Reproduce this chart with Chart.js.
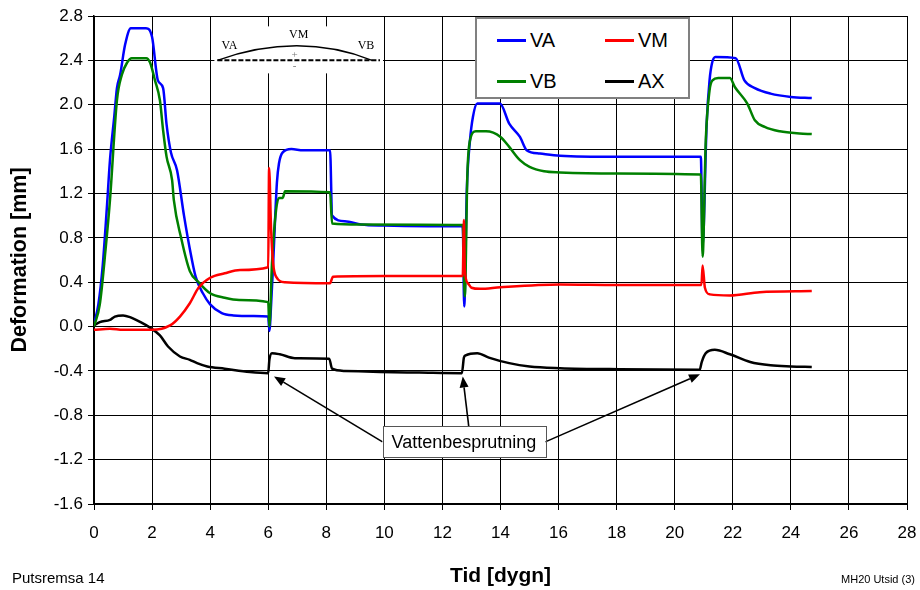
<!DOCTYPE html>
<html>
<head>
<meta charset="utf-8">
<script src="https://cdn.jsdelivr.net/npm/chart.js@4.4.1/dist/chart.umd.min.js"></script>
<style>
  body { margin: 0; background: #fff; }
  #wrap { position: relative; width: 920px; height: 590px; font-family: 'Liberation Sans', Arial, sans-serif; }
  #legend { position: absolute; left: 475px; top: 17px; width: 211px; height: 78px; border: 2px solid #808080; background: #fff; }
  .item { position: absolute; font-size: 20px; line-height: 20px; color: #000; }
  .item span.sw { position: absolute; left: 0; top: 9px; width: 29px; height: 3px; }
  .item span.tx { position: absolute; left: 33px; top: 0; }
  .foot { position: absolute; color: #000; white-space: nowrap; }
</style>
</head>
<body>
<div id="wrap">
  <canvas id="chart" width="920" height="590"></canvas>
  <div id="legend"></div>
  <div class="foot" style="left:12px; top:569px; font-size:15px;">Putsremsa 14</div>
  <div class="foot" style="right:5px; top:573px; font-size:11px;">MH20 Utsid (3)</div>
</div>
<script>
// Deformation vs time, readings taken off the plot
const seriesNames = ['VA', 'VM', 'VB', 'AX'];
const seriesColors = ['#0000ff', '#ff0000', '#008000', '#000000'];
const drawOrder = [2, 0, 1, 3]; // red on top, then green, blue, black

const vaDays = [0, 0.15, 0.3, 0.45, 0.55, 0.7, 0.79, 0.9, 1.07, 1.27, 1.79, 2.0, 2.2, 2.38, 2.5, 2.65, 2.86, 3.1, 3.3, 3.5, 3.75, 4.0, 4.4, 4.8, 5.5, 6.0,
  6.04, 6.1, 6.17, 6.3, 6.37, 6.5, 6.8, 7.2, 8.13, 8.2, 8.64, 9.2, 10.0, 11.5, 12.7,
  12.75, 12.84, 12.95, 13.05, 13.2, 13.98, 14.3, 14.67, 14.9, 15.36, 16.05, 18.0, 20.9,
  20.96, 21.1, 21.2, 21.29, 21.4, 22.1, 22.4, 22.76, 23.3, 24.0, 24.72];
const vaValues = [0.02, 0.2, 0.55, 1.1, 1.5, 1.9, 2.15, 2.27, 2.54, 2.69, 2.69, 2.61, 2.22, 2.15, 1.82, 1.57, 1.41, 1.0, 0.7, 0.45, 0.3, 0.2, 0.12, 0.1, 0.095, 0.09,
  -0.04, 0.2, 0.57, 1.3, 1.47, 1.57, 1.6, 1.59, 1.59, 1.0, 0.95, 0.92, 0.91, 0.905, 0.905,
  0.18, 1.23, 1.68, 1.89, 2.01, 2.01, 1.83, 1.71, 1.59, 1.56, 1.54, 1.53, 1.53,
  0.72, 1.83, 2.22, 2.38, 2.43, 2.42, 2.22, 2.15, 2.1, 2.07, 2.06];

const vmDays = [0, 0.55, 1.0, 2.0, 2.62, 2.96, 3.3, 3.6, 4.0, 4.5, 5.03, 6.0,
  6.03, 6.1, 6.17, 6.27, 6.58, 8.13, 8.23, 10.0, 12.7,
  12.74, 12.77, 12.88, 13.0, 13.3, 14.0, 16.05, 18.0, 20.92,
  20.96, 21.04, 21.21, 21.9, 22.93, 24.72];
const vmValues = [-0.03, -0.02, -0.03, -0.03, 0.01, 0.09, 0.21, 0.35, 0.44, 0.48, 0.51, 0.535,
  1.43, 0.87, 0.57, 0.45, 0.4, 0.39, 0.45, 0.455, 0.455,
  0.96, 0.51, 0.39, 0.35, 0.34, 0.355, 0.38, 0.375, 0.375,
  0.55, 0.35, 0.29, 0.28, 0.31, 0.32];

const vbDays = [0, 0.2, 0.4, 0.55, 0.79, 0.96, 1.14, 1.3, 1.8, 1.93, 2.1, 2.27, 2.38, 2.5, 2.69, 2.75, 3.0, 3.3, 3.6, 4.0, 4.5, 5.0, 6.0,
  6.04, 6.13, 6.27, 6.37, 6.5, 6.58, 8.13, 8.2, 9.16, 12.7,
  12.77, 12.86, 12.95, 13.15, 13.5, 14.0, 14.3, 14.67, 15.0, 15.5, 16.05, 18.0, 20.9,
  20.96, 21.07, 21.2, 21.3, 21.5, 21.9, 22.07, 22.5, 22.76, 23.1, 23.62, 24.3, 24.72];
const vbValues = [0.0, 0.2, 0.7, 1.14, 2.04, 2.27, 2.38, 2.42, 2.42, 2.38, 2.22, 2.04, 1.77, 1.53, 1.32, 1.14, 0.8, 0.5, 0.4, 0.3, 0.26, 0.24, 0.22,
  0.0, 0.57, 1.05, 1.16, 1.16, 1.22, 1.21, 0.93, 0.92, 0.915,
  0.27, 1.38, 1.68, 1.76, 1.76, 1.71, 1.62, 1.5, 1.44, 1.4, 1.39, 1.38, 1.37,
  0.63, 1.68, 2.13, 2.22, 2.24, 2.24, 2.16, 2.01, 1.86, 1.8, 1.76, 1.74, 1.735];

const axDays = [0, 0.2, 0.55, 0.72, 1.0, 1.24, 1.6, 1.93, 2.27, 2.55, 2.96, 3.3, 3.55, 3.9, 4.5, 5.37, 6.0,
  6.04, 6.13, 6.4, 6.92, 8.1, 8.2, 8.64, 9.85, 11.2, 12.67,
  12.74, 12.8, 13.2, 13.6, 14.3, 15.0, 16.05, 18.1, 20.86,
  20.93, 21.07, 21.38, 21.9, 22.6, 23.3, 24.0, 24.72];
const axValues = [0.01, 0.04, 0.06, 0.09, 0.1, 0.085, 0.04, -0.01, -0.08, -0.18, -0.27, -0.3, -0.33, -0.36, -0.38, -0.41, -0.42,
  -0.3, -0.24, -0.25, -0.285, -0.29, -0.38, -0.4, -0.41, -0.415, -0.42,
  -0.28, -0.26, -0.24, -0.28, -0.33, -0.36, -0.375, -0.385, -0.39,
  -0.32, -0.24, -0.21, -0.25, -0.32, -0.35, -0.36, -0.365];

// axes
const xMin = 0, xMax = 28, xStep = 2;
const yMin = -1.6, yMax = 2.8, yStep = 0.4;

// annotations
const noteText = 'Vattenbesprutning';
const noteDay = 12.74, noteValue = -1.04;
const sprayTipDays = [6.2, 12.7, 20.87];
const sprayTipValues = [-0.45, -0.45, -0.43];
const beamFrom = 4.25, beamTo = 9.85, beamValue = 2.4;

function zip(days, vals) {
  return days.map((d, i) => ({ x: d, y: vals[i] }));
}

const seriesData = [zip(vaDays, vaValues), zip(vmDays, vmValues), zip(vbDays, vbValues), zip(axDays, axValues)];

// legend (2 columns)
const legend = document.getElementById('legend');
seriesNames.forEach((name, i) => {
  const el = document.createElement('div');
  el.className = 'item';
  el.style.left = (20 + (i % 2) * 108) + 'px';
  el.style.top = (11 + Math.floor(i / 2) * 41) + 'px';
  el.innerHTML = '<span class="sw" style="background:' + seriesColors[i] + '"></span><span class="tx">' + name + '</span>';
  legend.appendChild(el);
});

function drawArrow(ctx, x0, y0, x1, y1) {
  const ang = Math.atan2(y1 - y0, x1 - x0);
  const len = 11, half = 4.5;
  const bx = x1 - len * Math.cos(ang), by = y1 - len * Math.sin(ang);
  ctx.beginPath();
  ctx.moveTo(x0, y0);
  ctx.lineTo(bx, by);
  ctx.stroke();
  ctx.beginPath();
  ctx.moveTo(x1, y1);
  ctx.lineTo(bx + half * Math.sin(ang), by - half * Math.cos(ang));
  ctx.lineTo(bx - half * Math.sin(ang), by + half * Math.cos(ang));
  ctx.closePath();
  ctx.fill();
}

const annotations = {
  id: 'annotations',
  beforeDatasetsDraw(chart) {
    const { ctx, scales: { x, y } } = chart;
    const x0 = x.getPixelForValue(beamFrom), x1 = x.getPixelForValue(beamTo);
    const yb = y.getPixelForValue(beamValue);
    ctx.save();
    // blank patch behind the beam sketch
    ctx.fillStyle = '#fff';
    ctx.fillRect(x0 - 3, yb - 34, x1 - x0 + 6, 47);
    ctx.strokeStyle = '#000';
    ctx.lineWidth = 1.5;
    ctx.beginPath();
    ctx.moveTo(x0, yb);
    ctx.quadraticCurveTo((x0 + x1) / 2, yb - 29, x1 - 8, yb);
    ctx.stroke();
    ctx.setLineDash([5, 2]);
    ctx.lineWidth = 2;
    ctx.beginPath();
    ctx.moveTo(x0, yb);
    ctx.lineTo(x1, yb);
    ctx.stroke();
    ctx.setLineDash([]);
    ctx.fillStyle = '#000';
    ctx.font = '12px "Liberation Serif", "Times New Roman", serif';
    ctx.textAlign = 'center';
    ctx.textBaseline = 'alphabetic';
    ctx.fillText('VA', x0 + 12, yb - 11);
    ctx.fillText('VM', (x0 + x1) / 2, yb - 22);
    ctx.fillText('VB', x1 - 14, yb - 11);
    ctx.fillStyle = '#777';
    ctx.font = '11px "Liberation Serif", serif';
    ctx.fillText('+', (x0 + x1) / 2 - 4, yb - 2);
    ctx.fillText('-', (x0 + x1) / 2 - 4, yb + 9);
    ctx.restore();
  },
  afterDatasetsDraw(chart) {
    const { ctx, scales: { x, y } } = chart;
    ctx.save();
    ctx.font = '18px "Liberation Sans", Arial, sans-serif';
    const tw = ctx.measureText(noteText).width;
    const cx = x.getPixelForValue(noteDay), cy = y.getPixelForValue(noteValue);
    const w = tw + 18, h = 31;
    const left = cx - w / 2, top = cy - h / 2;
    ctx.strokeStyle = '#000';
    ctx.fillStyle = '#000';
    ctx.lineWidth = 1.6;
    sprayTipDays.forEach((d, i) => {
      const tx = x.getPixelForValue(d), ty = y.getPixelForValue(sprayTipValues[i]);
      let sx, sy;
      if (tx < left) { sx = left; sy = cy; }
      else if (tx > left + w) { sx = left + w; sy = cy; }
      else { sx = tx + 6; sy = top; }
      drawArrow(ctx, sx, sy, tx, ty);
    });
    ctx.fillStyle = '#fff';
    ctx.fillRect(left, top, w, h);
    ctx.strokeStyle = '#555';
    ctx.lineWidth = 1;
    ctx.strokeRect(Math.round(left) + 0.5, Math.round(top) + 0.5, Math.round(w), Math.round(h));
    ctx.fillStyle = '#000';
    ctx.textAlign = 'center';
    ctx.textBaseline = 'middle';
    ctx.fillText(noteText, cx, cy + 1);
    ctx.restore();
  }
};

const ctx = document.getElementById('chart').getContext('2d');
new Chart(ctx, {
  type: 'line',
  data: {
    datasets: seriesNames.map((name, i) => ({
      label: name,
      data: seriesData[i],
      order: drawOrder[i],
      borderColor: seriesColors[i],
      backgroundColor: seriesColors[i],
      borderWidth: 2.5,
      pointRadius: 0,
      fill: false,
      cubicInterpolationMode: 'monotone'
    }))
  },
  options: {
    responsive: false,
    animation: false,
    layout: { padding: { left: 0, right: 13, top: 16, bottom: 0 } },
    plugins: {
      legend: { display: false },
      tooltip: { enabled: false }
    },
    scales: {
      x: {
        type: 'linear',
        min: xMin,
        max: xMax,
        afterFit: (scale) => { scale.height = 86; scale.paddingLeft = 0; scale.paddingRight = 0; },
        ticks: {
          stepSize: xStep,
          color: '#000',
          padding: 13,
          maxRotation: 0,
          font: { family: '"Liberation Sans", Arial, sans-serif', size: 17 }
        },
        grid: { color: '#000', lineWidth: 1, tickLength: 6 },
        border: { color: '#000', width: 2 },
        title: {
          display: true,
          text: 'Tid [dygn]',
          color: '#000',
          padding: { top: 0, bottom: 1 },
          font: { family: '"Liberation Sans", Arial, sans-serif', size: 21, weight: 'bold' }
        }
      },
      y: {
        min: yMin,
        max: yMax,
        afterFit: (scale) => { scale.width = 94; scale.paddingTop = 0; scale.paddingBottom = 0; },
        ticks: {
          stepSize: yStep,
          color: '#000',
          padding: 5,
          font: { family: '"Liberation Sans", Arial, sans-serif', size: 17 },
          callback: (v) => (Math.abs(v) < 1e-9 ? 0 : v).toFixed(1)
        },
        grid: { color: '#000', lineWidth: 1, tickLength: 6 },
        border: { color: '#000', width: 1.5 },
        title: {
          display: true,
          text: 'Deformation [mm]',
          color: '#000',
          padding: { top: 7, bottom: 0 },
          font: { family: '"Liberation Sans", Arial, sans-serif', size: 21.5, weight: 'bold' }
        }
      }
    }
  },
  plugins: [annotations]
});
</script>
</body>
</html>
